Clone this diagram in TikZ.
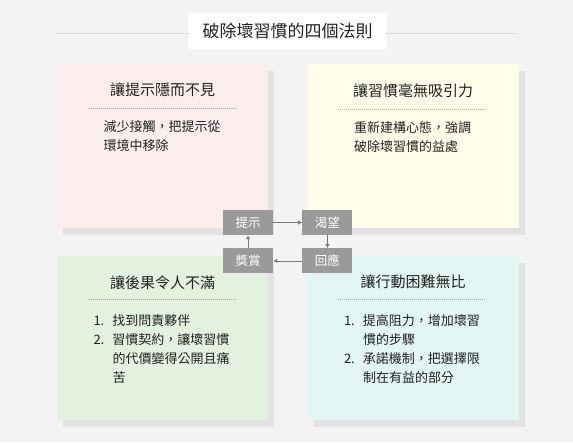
\documentclass[tikz,border=0pt]{standalone}
\usepackage{fontspec}
\setmainfont{Noto Sans CJK TC}
\usetikzlibrary{positioning,shadows,arrows.meta}
\definecolor{pagebg}{HTML}{F3F3F3}
\definecolor{shadowgray}{HTML}{E2E2E2}
\definecolor{pinkcard}{HTML}{FDEEEE}
\definecolor{creamcard}{HTML}{FEFEE9}
\definecolor{greencard}{HTML}{E3F2DF}
\definecolor{cyancard}{HTML}{E2F6F3}
\definecolor{inkblack}{HTML}{222222}
\definecolor{rulegray}{HTML}{A8A8A8}
\definecolor{loopgray}{HTML}{9A9A9A}
\definecolor{arrowgray}{HTML}{7A7A7A}
\begin{document}
\begin{tikzpicture}[
  x=1pt, y=-1pt,
  card/.style={
    minimum width=211pt,
    minimum height=164pt,
    inner sep=0pt,
    drop shadow={shadow xshift=6pt, shadow yshift=-7pt, fill=shadowgray, opacity=1}
  },
  cardtitle/.style={font=\fontsize{15}{18}\selectfont, text=inkblack, inner sep=0pt},
  cardtext/.style={
    font=\fontsize{13}{19}\selectfont,
    text=inkblack,
    align=left,
    inner sep=0pt,
    anchor=north
  },
  dotrule/.style={draw=rulegray, line width=0.6pt, dash pattern=on 0.8pt off 1.2pt},
  titlebox/.style={
    fill=white,
    minimum width=199pt,
    minimum height=36pt,
    font=\fontsize{17}{20}\selectfont,
    text=inkblack
  },
  loopbox/.style={
    fill=loopgray,
    text=white,
    minimum width=50pt,
    minimum height=25pt,
    inner sep=0pt,
    font=\fontsize{12.5}{15}\selectfont
  },
  cyclearrow/.style={draw=arrowgray, line width=0.8pt, -{Latex[length=4pt,width=4.5pt]}}
]
\fill[pagebg] (0,0) rectangle (573,442);

\node[titlebox] (maintitle) at (287.5,31) {破除壞習慣的四個法則};
\coordinate (ruleleft) at (57,33);
\coordinate (ruleright) at (517,33);
\draw[dotrule, draw=rulegray!70] (ruleleft) -- (ruleleft -| maintitle.west);
\draw[dotrule, draw=rulegray!70] (ruleright -| maintitle.east) -- (ruleright);

\node[card, fill=pinkcard] (invisible) at (162.5,146) {};
\node[card, fill=creamcard] (unattractive) at (413,146) {};
\node[card, fill=greencard] (unsatisfying) at (162.5,337.5) {};
\node[card, fill=cyancard] (difficult) at (413,338) {};

\node[cardtitle] (invisibletitle) at ([yshift=-26pt]invisible.north) {讓提示隱而不見};
\node[cardtitle] (unattractivetitle) at ([yshift=-27pt]unattractive.north) {讓習慣毫無吸引力};
\node[cardtitle] (unsatisfyingtitle) at ([yshift=-27pt]unsatisfying.north) {讓後果令人不滿};
\node[cardtitle] (difficulttitle) at ([yshift=-26pt]difficult.north) {讓行動困難無比};

\draw[dotrule] ([xshift=-74pt,yshift=-44pt]invisible.north) -- ([xshift=73pt,yshift=-44pt]invisible.north);
\draw[dotrule] ([xshift=-75pt,yshift=-45pt]unattractive.north) -- ([xshift=72pt,yshift=-45pt]unattractive.north);
\draw[dotrule] ([xshift=-74pt,yshift=-44pt]unsatisfying.north) -- ([xshift=73pt,yshift=-44pt]unsatisfying.north);
\draw[dotrule] ([xshift=-75pt,yshift=-43pt]difficult.north) -- ([xshift=72pt,yshift=-43pt]difficult.north);

\node[cardtext, text width=118pt] (invisiblebody) at ([yshift=-57pt]invisible.north)
  {減少接觸，把提示從\\環境中移除};
\node[cardtext, text width=118pt] (unattractivebody) at ([yshift=-57pt]unattractive.north)
  {重新建構心態，強調\\破除壞習慣的益處};
\node[cardtext, text width=136pt] (unsatisfyingbody) at ([xshift=-1pt,yshift=-59pt]unsatisfying.north)
  {\makebox[19pt][l]{1.}找到問責夥伴\\
   \makebox[19pt][l]{2.}習慣契約，讓壞習慣\\
   \hspace*{19pt}的代價變得公開且痛\\
   \hspace*{19pt}苦};
\node[cardtext, text width=136pt] (difficultbody) at ([xshift=-1pt,yshift=-59pt]difficult.north)
  {\makebox[19pt][l]{1.}提高阻力，增加壞習\\
   \hspace*{19pt}慣的步驟\\
   \makebox[19pt][l]{2.}承諾機制，把選擇限\\
   \hspace*{19pt}制在有益的部分};

\node[loopbox] (cue) at (248,222.5) {提示};
\node[loopbox, right=29pt of cue] (craving) {渴望};
\node[loopbox, below=13pt of craving] (response) {回應};
\node[loopbox, left=29pt of response] (reward) {獎賞};

\draw[cyclearrow] (cue) -- (craving);
\draw[cyclearrow] (craving) -- (response);
\draw[cyclearrow] (response) -- (reward);
\draw[cyclearrow] (reward) -- (cue);
\end{tikzpicture}
\end{document}
